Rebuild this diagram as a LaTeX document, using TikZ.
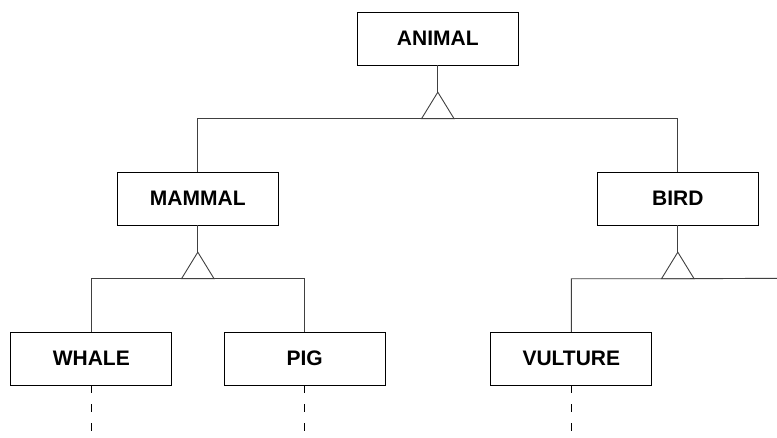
\documentclass[tikz,border=0pt]{standalone}
\usepackage{fontspec}
\setmainfont{Liberation Sans}
\begin{document}
\begin{tikzpicture}[x=1pt,y=-1pt,
  cls/.style={draw=black, line width=0.8pt, minimum width=161pt, minimum height=52.7pt,
    inner sep=0pt, font=\fontsize{21}{25}\selectfont\bfseries},
  link/.style={draw=black!75, line width=0.9pt},
  future/.style={draw=black, line width=0.9pt, dash pattern=on 8pt off 11pt}]
\useasboundingbox (0,0) rectangle (777,437);

% classes
\node[cls] (animal)  at (437.8,38.7)  {ANIMAL};
\node[cls] (mammal)  at (197.8,198.7) {MAMMAL};
\node[cls] (bird)    at (677.8,198.7) {BIRD};
\node[cls] (whale)   at (91.3,358.7)  {WHALE};
\node[cls] (pig)     at (304.7,358.7) {PIG};
\node[cls] (vulture) at (571.3,358.7) {VULTURE};

% generalisation: ANIMAL
\draw[link] (animal.south) -- ++(0,26.7) coordinate (ga);
\draw[link] (ga) -- ++(-16.3,26.6) -- ++(32.6,0) -- cycle;
\coordinate (gabase) at ([yshift=-26.6pt]ga);
\draw[link] (mammal.north) |- (gabase) -| (bird.north);

% generalisation: MAMMAL
\draw[link] (mammal.south) -- ++(0,26.7) coordinate (gm);
\draw[link] (gm) -- ++(-16.3,26.6) -- ++(32.6,0) -- cycle;
\coordinate (gmbase) at ([yshift=-26.6pt]gm);
\draw[link] (whale.north) |- (gmbase) -| (pig.north);

% generalisation: BIRD
\draw[link] (bird.south) -- ++(0,26.7) coordinate (gb);
\draw[link] (gb) -- ++(-16.3,26.6) -- ++(32.6,0) -- cycle;
\coordinate (gbbase) at ([yshift=-26.6pt]gb);
\coordinate (gbend) at (777,278.3);
\draw[link] (vulture.north) |- (gbbase) -- (gbend);

% continuations below the leaf classes
\coordinate (whaleend)   at (91.3,437);
\coordinate (pigend)     at (304.7,437);
\coordinate (vultureend) at (571.3,437);
\draw[future] (whale.south) -- (whaleend);
\draw[future] (pig.south) -- (pigend);
\draw[future] (vulture.south) -- (vultureend);
\end{tikzpicture}
\end{document}
